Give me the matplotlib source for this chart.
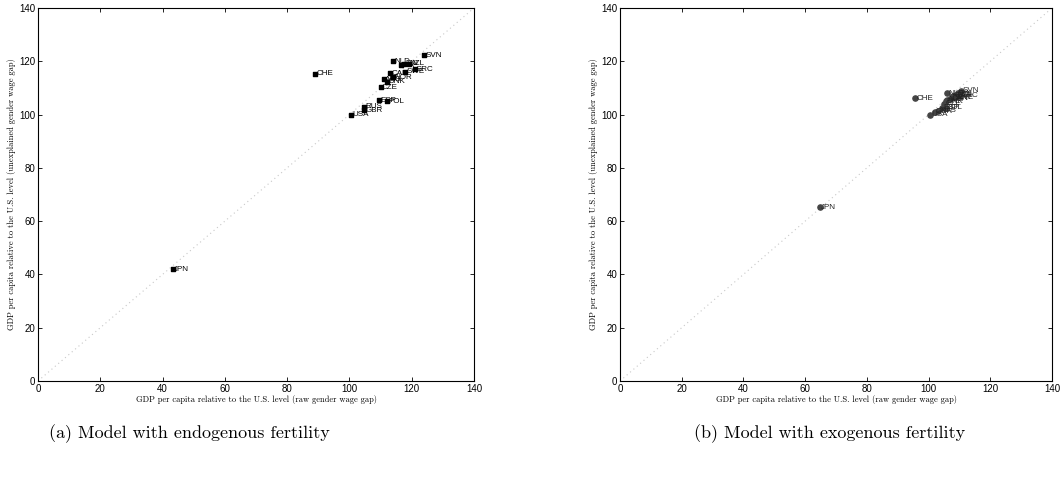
import numpy as np
import matplotlib.pyplot as plt

# country codes shared by both panels
countries = ["USA", "GBR", "RUS", "ESP", "POL", "CZE", "DNK", "AUS", "CAN", "NOR",
             "NLD", "ITA", "NZL", "SWE", "GRC", "FIN", "SVN", "CHE", "JPN"]

# (a) endogenous fertility
endo_x = [100.5, 104.8, 104.8, 109.5, 112.0, 110.0, 112.0, 111.0, 113.0, 114.0,
          114.0, 116.5, 119.0, 118.0, 121.0, 117.5, 124.0, 89.0, 43.2]
endo_y = [100.0, 101.7, 103.0, 105.3, 105.0, 110.3, 112.3, 113.3, 115.5, 114.0,
          120.0, 118.5, 119.0, 116.0, 117.0, 119.0, 122.3, 115.3, 42.0]

# (b) exogenous fertility
exo_x = [100.5, 102.0, 103.0, 104.5, 105.5, 105.0, 105.5, 106.0, 107.0, 107.5,
         106.0, 108.0, 109.0, 108.5, 110.0, 109.5, 110.5, 95.6, 64.8]
exo_y = [100.0, 101.0, 101.5, 102.5, 102.5, 104.0, 105.0, 105.5, 106.0, 106.5,
         108.0, 107.0, 107.5, 106.5, 107.0, 108.0, 109.0, 106.2, 65.2]

ticks = [0, 20, 40, 60, 80, 100, 120, 140]
xlab = "GDP per capita relative to the U.S. level (raw gender wage gap)"
ylab = "GDP per capita relative to the U.S. level (unexplained gender wage gap)"


def panel(ax, x, y, marker, mcolor, tcolor, size):
    """scatter with country labels and 45 degree line, matlab look"""
    ax.plot([0, 140], [0, 140], ls=(0, (1, 3)), color="#c8c8c8", lw=0.8, zorder=1)
    ax.scatter(x, y, marker=marker, s=size, color=mcolor, edgecolors=mcolor, zorder=3)
    for c, xi, yi in zip(countries, x, y):
        ax.text(xi + 0.4, yi, c, fontsize=5.8, color=tcolor, va="center", ha="left",
                family="Liberation Sans", zorder=4)
    ax.set_xlim(0, 140)
    ax.set_ylim(0, 140)
    ax.set_xticks(ticks)
    ax.set_yticks(ticks)
    ax.tick_params(direction="in", length=3, width=0.6, top=True, right=True,
                   labelsize=7, pad=2)
    for lbl in ax.get_xticklabels() + ax.get_yticklabels():
        lbl.set_family("Liberation Sans")
    for s in ax.spines.values():
        s.set_linewidth(0.8)
    ax.set_xlabel(xlab, family="cmr10", fontsize=6.1, labelpad=1)
    ax.set_ylabel(ylab, family="cmr10", fontsize=6.1, labelpad=2)


fig = plt.figure(figsize=(10.63, 4.8), dpi=100)
ax1 = fig.add_axes([38 / 1063, 1 - 381 / 480, 436 / 1063, 373 / 480])
ax2 = fig.add_axes([620 / 1063, 1 - 381 / 480, 432 / 1063, 373 / 480])

panel(ax1, endo_x, endo_y, "s", "black", "black", 10)
panel(ax2, exo_x, exo_y, "o", "#444444", "#222222", 14)

fig.text(189 / 1063, 1 - 434 / 480, "(a) Model with endogenous fertility",
         family="cmr10", fontsize=13, ha="center", va="center")
fig.text(830 / 1063, 1 - 434 / 480, "(b) Model with exogenous fertility",
         family="cmr10", fontsize=13, ha="center", va="center")

fig.savefig("out.png", dpi=100)
